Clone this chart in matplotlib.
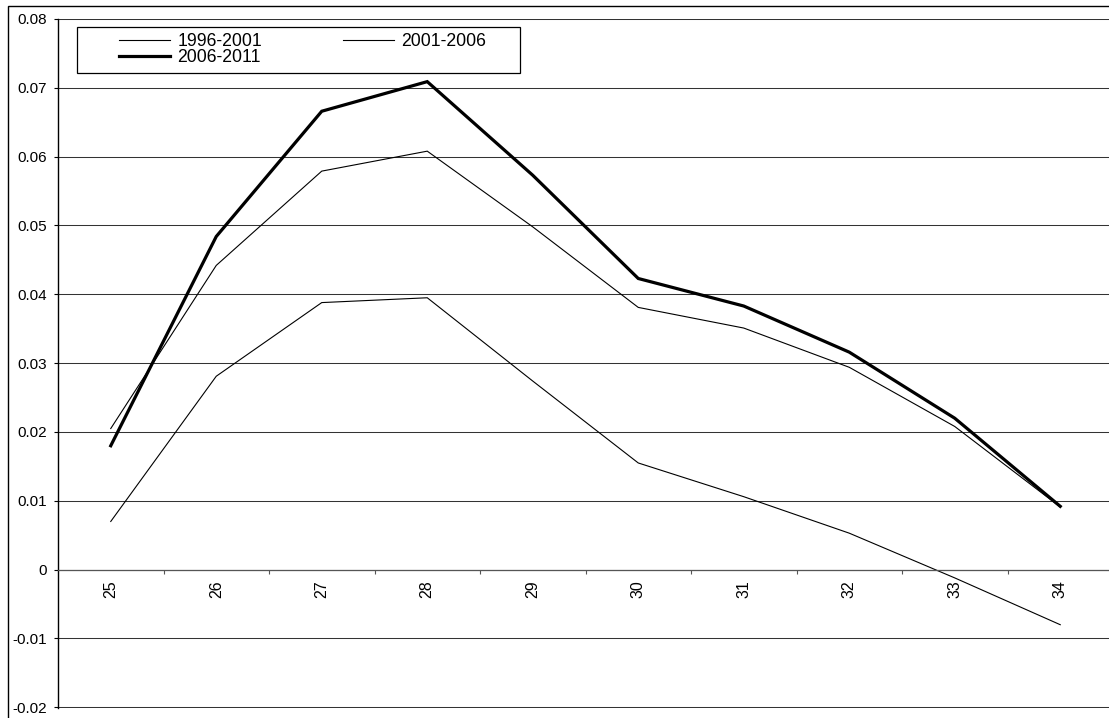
import numpy as np
import matplotlib
matplotlib.use("Agg")
from matplotlib import pyplot as plt
from matplotlib.patches import Rectangle

plt.rcParams['font.family'] = ['Liberation Sans', 'DejaVu Sans']

# data
ages = ['25', '26', '27', '28', '29', '30', '31', '32', '33', '34']
y_1996_2001 = [0.0070, 0.0281, 0.0388, 0.0395, 0.0274, 0.0155, 0.0106, 0.0053, -0.0012, -0.0080]
y_2001_2006 = [0.0205, 0.0442, 0.0579, 0.0608, 0.0498, 0.0381, 0.0351, 0.0294, 0.0208, 0.0091]
y_2006_2011 = [0.0180, 0.0484, 0.0666, 0.0709, 0.0573, 0.0423, 0.0383, 0.0316, 0.0220, 0.0092]
y_ticks = [-0.02, -0.01, 0.0, 0.01, 0.02, 0.03, 0.04, 0.05, 0.06, 0.07, 0.08]

W, H = 1109, 718
fig = plt.figure(figsize=(W / 100, H / 100), dpi=100)
fig.patch.set_facecolor('white')

# plot area in pixel terms -> figure fractions
left, right, top, bottom = 58, 1113, 19, 708
ax = fig.add_axes([left / W, 1 - bottom / H, (right - left) / W, (bottom - top) / H])

x = np.arange(len(ages))
l1, = ax.plot(x, y_1996_2001, color='black', lw=0.8, solid_joinstyle='miter')
l2, = ax.plot(x, y_2001_2006, color='black', lw=0.8, solid_joinstyle='miter')
l3, = ax.plot(x, y_2006_2011, color='black', lw=2.3, solid_joinstyle='miter')

ax.set_xlim(-0.5, len(ages) - 0.5)
ax.set_ylim(y_ticks[0] - 0.0001, y_ticks[-1])

# y axis
ax.set_yticks(y_ticks)
ax.set_yticklabels(['0' if abs(v) < 1e-9 else f'{v:.2f}' for v in y_ticks])
ax.tick_params(axis='y', direction='out', length=3, width=0.8, pad=5, labelsize=11, colors='black')
ax.yaxis.grid(True, color='#333333', lw=0.75)
ax.set_axisbelow(True)

# category axis crossing at zero, ticks between categories
ax.spines['bottom'].set_position(('data', 0))
ax.spines['bottom'].set_color('#555555')
ax.spines['bottom'].set_linewidth(0.9)
ax.set_xticks(np.arange(len(ages) - 1) + 0.5)
ax.set_xticklabels([])
ax.set_xticks(x, minor=True)
ax.set_xticklabels(ages, minor=True, rotation=90, va='top', ha='center', fontsize=11.5)
ax.tick_params(axis='x', which='major', direction='out', length=3, width=0.8, color='#555555')
ax.tick_params(axis='x', which='minor', length=0, pad=7.5)

for s in ('top', 'right'):
    ax.spines[s].set_visible(False)
ax.spines['left'].set_color('black')
ax.spines['left'].set_linewidth(1.0)

# legend, Excel order: row1 a, b ; row2 c  (frame drawn separately)
leg = ax.legend([l1, l3, l2], ['1996-2001', '2006-2011', '2001-2006'], ncol=2,
                loc='upper left', bbox_to_anchor=(119 / W, 1 - 33.5 / H),
                bbox_transform=fig.transFigure, fontsize=12.7, frameon=False,
                handlelength=2.9, handletextpad=0.4, columnspacing=4.6,
                labelspacing=-0.06, borderpad=0, borderaxespad=0)
fig.add_artist(Rectangle((77 / W, 1 - 73 / H), (520 - 77) / W, 46 / H, fill=False,
                         lw=0.9, edgecolor='black', facecolor='white',
                         transform=fig.transFigure, zorder=2))

# outer chart border
fig.add_artist(Rectangle((7.5 / W, -0.05), 1.2, 0.05 + (H - 5.5) / H, fill=False,
                         lw=1.0, edgecolor='black', transform=fig.transFigure))

fig.savefig('out.png', dpi=100)
